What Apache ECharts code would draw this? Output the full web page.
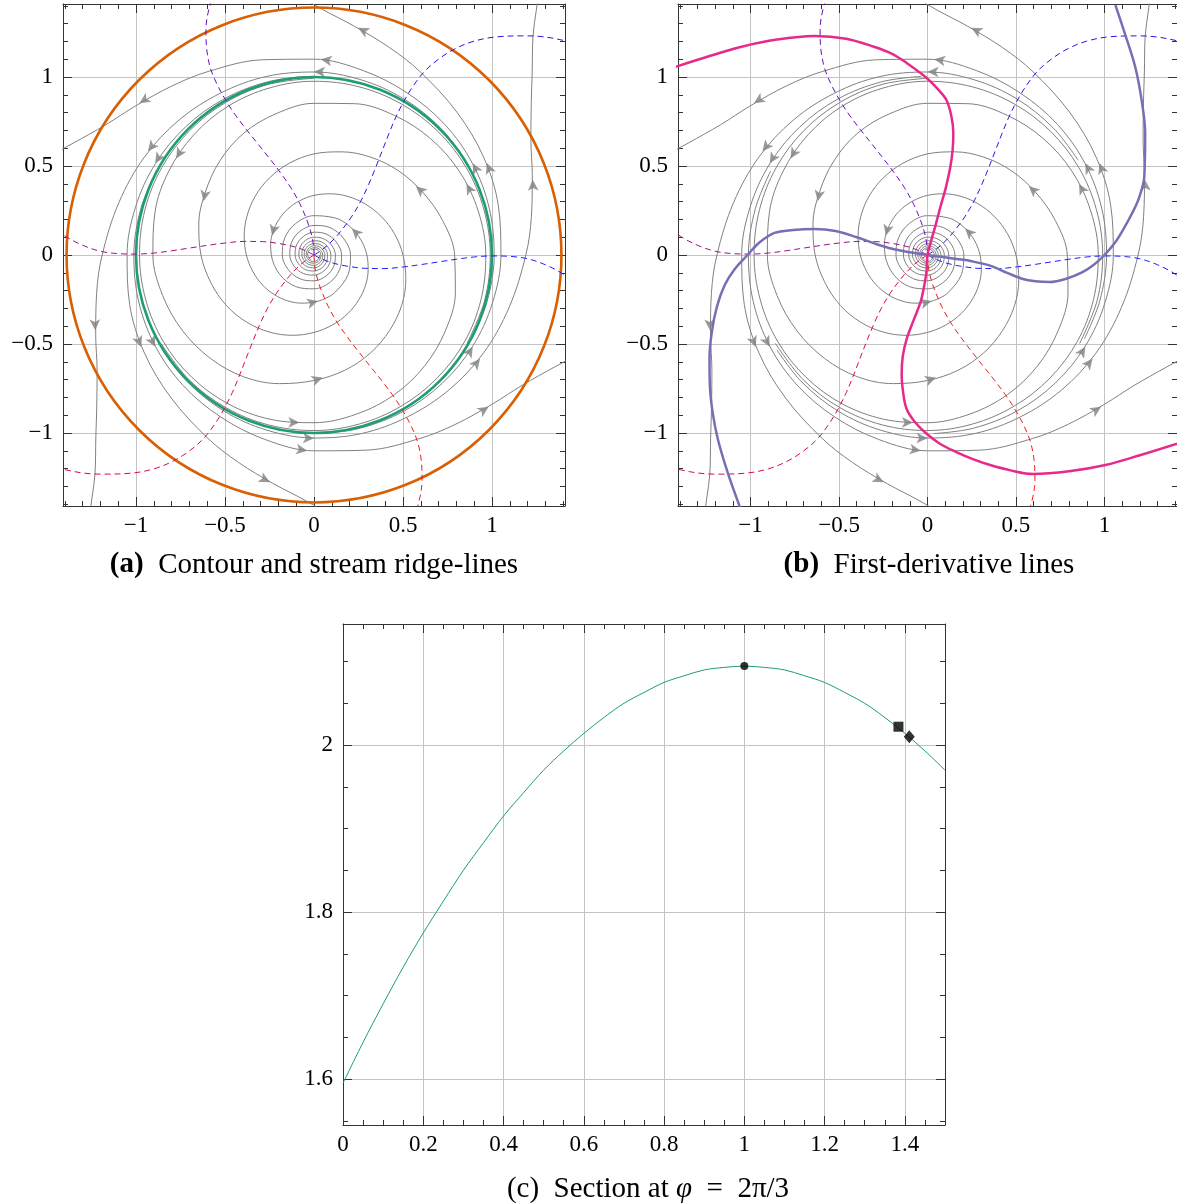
<!DOCTYPE html>
<html><head><meta charset="utf-8">
<script src="https://cdn.jsdelivr.net/npm/echarts@6/dist/echarts.min.js"></script>
<style>html,body{margin:0;padding:0;background:#fff}#c{width:1177px;height:1204px}</style>
</head><body><div id="c"></div>
<script>
// ---------------- data ----------------
// outer stream line, polar [theta deg, r]; drawn six times (60 deg apart)
const streamOut = [[-88,1.004],[-75,1.007],[-60,1.012],[-45,1.019],[-30,1.028],[-15,1.038],[0,1.05],[15,1.072],[30,1.10],[45,1.135],[60,1.19],[70,1.24],[80,1.305],[88,1.38],[95,1.49],[100,1.60],[105,1.74],[110,1.96],[116,2.25]];
const streamOutTurns = [0,60,120,180,240,300];
// inner stream line, polar [theta deg, r]; drawn three times (120 deg apart)
const streamIn = [[-150,0.993],[-135,0.992],[-120,0.99],[-105,0.988],[-90,0.986],[-75,0.983],[-60,0.98],[-45,0.978],[-30,0.976],[-15,0.971],[0,0.965],[15,0.955],[30,0.942],[45,0.925],[60,0.905],[75,0.88],[90,0.852],[105,0.822],[120,0.79],[135,0.748],[150,0.705],[165,0.67],[180,0.635],[195,0.60],[210,0.568],[225,0.534],[240,0.50],[255,0.467],[270,0.435],[285,0.406],[300,0.38],[315,0.356],[330,0.335],[345,0.315],[360,0.297],[375,0.28],[390,0.265],[405,0.252],[420,0.24],[450,0.221],[480,0.205],[510,0.19],[540,0.178],[570,0.166],[600,0.155],[630,0.145],[660,0.136],[690,0.128],[720,0.12],[750,0.113],[780,0.106],[810,0.1],[840,0.095],[870,0.09],[900,0.085],[930,0.08],[960,0.076],[990,0.072],[1020,0.068],[1050,0.064],[1080,0.061],[1110,0.058],[1140,0.055],[1170,0.052],[1200,0.049],[1230,0.046],[1260,0.044],[1290,0.041],[1320,0.039],[1350,0.037],[1380,0.035],[1410,0.033],[1440,0.031]];
const streamInTurns = [0,120,240];
// arrow heads [theta deg, r, outward tilt deg]
const arrowsOut = [[-30,1.03,2],[28,1.10,7],[79,1.30,17]];
const arrowsIn = [[25,0.945,-4],[154,0.69,-15],[395,0.26,-10]];
// dashed ridge/valley lines: [r, angular offset deg]
const ridgeShape = [[0,-30],[0.05,-27],[0.1,-24],[0.15,-21],[0.2,-18.5],[0.3,-14.5],[0.4,-11],[0.5,-7.8],[0.6,-5.2],[0.7,-3.2],[0.8,-1.7],[0.9,-0.7],[1.0,-0.3],[1.1,-0.4],[1.2,-1.0],[1.3,-2.4],[1.4,-4.3],[1.5,-6.8],[1.6,-10],[1.72,-14.3],[1.87,-20.2],[2.0,-26]];
const ridgeDirs = [0,60,120,180,240,300];
const ridgeColors = ['#1f1fff','#3510e6','#6a0dbf','#a3108a','#d80a50','#f01c1c'];
// circles in panel (a)
const contourRadius = [1.39];
const ridgeCircleRadius = [1.0];
// first-derivative lines in panel (b)
const purpleLine = [[1.062,1.404],[1.12,1.23],[1.174,1.056],[1.21,0.87],[1.23,0.685],[1.225,0.438],[1.195,0.32],[1.157,0.236],[1.11,0.15],[1.06,0.07],[1.0,0.0],[0.94,-0.055],[0.876,-0.096],[0.78,-0.135],[0.691,-0.152],[0.61,-0.148],[0.539,-0.135],[0.45,-0.1],[0.354,-0.06],[0.25,-0.035],[0.163,-0.022],[0.08,-0.01],[0,0],[-0.1,0.015],[-0.2,0.035],[-0.3,0.065],[-0.4,0.1],[-0.52,0.135],[-0.64,0.146],[-0.76,0.14],[-0.865,0.124],[-0.95,0.07],[-1.017,0],[-1.09,-0.08],[-1.146,-0.169],[-1.19,-0.29],[-1.219,-0.433],[-1.232,-0.58],[-1.23,-0.73],[-1.215,-0.88],[-1.185,-1.034],[-1.13,-1.22],[-1.06,-1.416]];
const pinkLine = [[-1.427,1.056],[-1.24,1.115],[-1.05,1.17],[-0.85,1.21],[-0.64,1.23],[-0.46,1.215],[-0.303,1.17],[-0.2,1.13],[-0.118,1.079],[-0.05,1.03],[0.0,0.99],[0.06,0.93],[0.107,0.871],[0.135,0.78],[0.146,0.685],[0.142,0.59],[0.129,0.494],[0.104,0.38],[0.073,0.27],[0.045,0.165],[0.017,0.067],[0,0],[-0.006,-0.096],[-0.02,-0.18],[-0.039,-0.264],[-0.08,-0.37],[-0.118,-0.472],[-0.14,-0.57],[-0.146,-0.674],[-0.138,-0.77],[-0.118,-0.865],[-0.07,-0.94],[-0.01,-1.0],[0.07,-1.06],[0.163,-1.107],[0.26,-1.148],[0.354,-1.18],[0.47,-1.21],[0.596,-1.23],[0.8,-1.215],[1.006,-1.18],[1.2,-1.125],[1.41,-1.06]];
// panel (c)
const sectionR = [0,0.05,0.1,0.15,0.2,0.25,0.3,0.35,0.4,0.45,0.5,0.55,0.6,0.65,0.7,0.75,0.8,0.85,0.9,0.95,1.0,1.05,1.1,1.15,1.2,1.25,1.3,1.35,1.4,1.45,1.5];
const sectionF = [1.595,1.644,1.690,1.734,1.775,1.813,1.850,1.883,1.915,1.943,1.970,1.993,2.014,2.033,2.050,2.063,2.075,2.083,2.090,2.093,2.0946,2.093,2.090,2.083,2.075,2.063,2.050,2.033,2.014,1.993,1.970];
const markCircle = [1.0,2.0946];
const markSquare = [1.384,2.022];
const markDiamond = [1.411,2.010];
// ticks
const abMajor = [-1,-0.5,0,0.5,1];
const abMinor = [-1.4,-1.3,-1.2,-1.1,-0.9,-0.8,-0.7,-0.6,-0.4,-0.3,-0.2,-0.1,0.1,0.2,0.3,0.4,0.6,0.7,0.8,0.9,1.1,1.2,1.3,1.4];
const cxMajor = [0,0.2,0.4,0.6,0.8,1,1.2,1.4];
const cxMinor = [0.05,0.1,0.15,0.25,0.3,0.35,0.45,0.5,0.55,0.65,0.7,0.75,0.85,0.9,0.95,1.05,1.1,1.15,1.25,1.3,1.35,1.45];
const cyMajor = [1.6,1.8,2];
const cyMinor = [1.55,1.65,1.7,1.75,1.85,1.9,1.95,2.05,2.1];

// ---------------- layout ----------------
const FONT = "'Liberation Serif','DejaVu Serif',serif";
const FRAME = '#333333', GRIDC = '#c4c4c4', GRAY = '#808080';
const grids = [
  {left:63, top:4, width:502, height:502, x:[-1.41,1.41], y:[-1.41,1.41]},
  {left:678, top:4, width:502, height:502, x:[-1.41,1.41], y:[-1.41,1.41]},
  {left:343, top:624, width:602, height:501, x:[0,1.5], y:[1.545,2.145]}
];
const fmt = v => (v < 0 ? '\u2212' : '') + String(Math.abs(v));
const xAxes = [], yAxes = [];
function addAxes(gi, xMaj, xMin, yMaj, yMin, xSplit, ySplit) {
  const g = grids[gi];
  const lab = {fontFamily:FONT, fontSize:23, color:'#000'};
  const common = (min,max) => ({type:'value', gridIndex:gi, min, max});
  const line = {show:true, onZero:false, lineStyle:{color:FRAME, width:1}};
  xAxes.push(Object.assign(common(g.x[0],g.x[1]), {position:'bottom', splitNumber:xSplit, axisLine:line,
    axisTick:{show:true, inside:true, length:9, customValues:xMaj, lineStyle:{color:FRAME}},
    axisLabel:Object.assign({show:true, customValues:xMaj, formatter:fmt, margin:8}, lab),
    splitLine:{show:true, lineStyle:{color:GRIDC, width:1}}}));
  xAxes.push(Object.assign(common(g.x[0],g.x[1]), {position:'top', axisLine:line,
    axisTick:{show:true, inside:true, length:9, customValues:xMaj, lineStyle:{color:FRAME}}, axisLabel:{show:false}, splitLine:{show:false}}));
  xAxes.push(Object.assign(common(g.x[0],g.x[1]), {position:'bottom', axisLine:{show:false, onZero:false},
    axisTick:{show:true, inside:true, length:5, customValues:xMin, lineStyle:{color:FRAME}}, axisLabel:{show:false}, splitLine:{show:false}}));
  xAxes.push(Object.assign(common(g.x[0],g.x[1]), {position:'top', axisLine:{show:false, onZero:false},
    axisTick:{show:true, inside:true, length:5, customValues:xMin, lineStyle:{color:FRAME}}, axisLabel:{show:false}, splitLine:{show:false}}));
  yAxes.push(Object.assign(common(g.y[0],g.y[1]), {position:'left', splitNumber:ySplit, axisLine:line,
    axisTick:{show:true, inside:true, length:9, customValues:yMaj, lineStyle:{color:FRAME}},
    axisLabel:Object.assign({show:true, customValues:yMaj, formatter:fmt, margin:10}, lab),
    splitLine:{show:true, lineStyle:{color:GRIDC, width:1}}}));
  yAxes.push(Object.assign(common(g.y[0],g.y[1]), {position:'right', axisLine:line,
    axisTick:{show:true, inside:true, length:9, customValues:yMaj, lineStyle:{color:FRAME}}, axisLabel:{show:false}, splitLine:{show:false}}));
  yAxes.push(Object.assign(common(g.y[0],g.y[1]), {position:'left', axisLine:{show:false, onZero:false},
    axisTick:{show:true, inside:true, length:5, customValues:yMin, lineStyle:{color:FRAME}}, axisLabel:{show:false}, splitLine:{show:false}}));
  yAxes.push(Object.assign(common(g.y[0],g.y[1]), {position:'right', axisLine:{show:false, onZero:false},
    axisTick:{show:true, inside:true, length:5, customValues:yMin, lineStyle:{color:FRAME}}, axisLabel:{show:false}, splitLine:{show:false}}));
}
addAxes(0, abMajor, abMinor, abMajor, abMinor, 5, 5);
addAxes(1, abMajor, abMinor, abMajor, abMinor, 5, 5);
addAxes(2, cxMajor, cxMinor, cyMajor, cyMinor, 7, 3);

// polar [theta, r] reading -> cartesian
const pc = (t, r) => { const a = t * Math.PI / 180; return [r * Math.cos(a), r * Math.sin(a)]; };

const series = [];
function panelCommon(gi) {
  const xi = gi * 4, yi = gi * 4;
  streamOutTurns.forEach(rot => series.push({type:'line', xAxisIndex:xi, yAxisIndex:yi, silent:true, symbol:'none', smooth:0.35, z:2,
    lineStyle:{color:GRAY, width:1}, data: streamOut.map(([t,r]) => pc(t + rot, r))}));
  streamInTurns.forEach(rot => series.push({type:'line', xAxisIndex:xi, yAxisIndex:yi, silent:true, symbol:'none', smooth:0.35, z:2,
    lineStyle:{color:GRAY, width:1}, data: streamIn.map(([t,r]) => pc(t + rot, r))}));
  const arr = [];
  streamOutTurns.forEach(rot => arrowsOut.forEach(([t,r,tilt]) => arr.push({value: pc(t + rot, r), symbolRotate: t + rot - tilt})));
  streamInTurns.forEach(rot => arrowsIn.forEach(([t,r,tilt]) => arr.push({value: pc(t + rot, r), symbolRotate: t + rot - tilt})));
  series.push({type:'scatter', xAxisIndex:xi, yAxisIndex:yi, silent:true, symbol:'arrow', symbolSize:[8,11], z:3,
    itemStyle:{color:GRAY}, data: arr});
  ridgeDirs.forEach((d, k) => series.push({type:'line', xAxisIndex:xi, yAxisIndex:yi, silent:true, symbol:'none', smooth:0.35, z:6,
    lineStyle:{color:ridgeColors[k], width:1, type:[6,4]}, data: ridgeShape.map(([r,o]) => pc(d + o, r))}));
}
panelCommon(0);
panelCommon(1);
series.push({type:'line', xAxisIndex:4, yAxisIndex:4, silent:true, symbol:'none', smooth:0.35, z:7,
  lineStyle:{color:'#7570b3', width:2.5}, data: purpleLine});
series.push({type:'line', xAxisIndex:4, yAxisIndex:4, silent:true, symbol:'none', smooth:0.35, z:7,
  lineStyle:{color:'#e7298a', width:2.5}, data: pinkLine});
// panel (c)
series.push({type:'line', xAxisIndex:8, yAxisIndex:8, silent:true, symbol:'none', smooth:0.35, z:3,
  lineStyle:{color:'#1b9e77', width:1}, data: sectionR.map((r,i) => [r, sectionF[i]])});
series.push({type:'scatter', xAxisIndex:8, yAxisIndex:8, silent:true, symbol:'circle', symbolSize:8, z:5, itemStyle:{color:'#000'}, data:[markCircle]});
series.push({type:'scatter', xAxisIndex:8, yAxisIndex:8, silent:true, symbol:'rect', symbolSize:10, z:5, itemStyle:{color:'#000'}, data:[markSquare]});
series.push({type:'scatter', xAxisIndex:8, yAxisIndex:8, silent:true, symbol:'diamond', symbolSize:[11,13], z:5, itemStyle:{color:'#000'}, data:[markDiamond]});

// circles of panel (a) via polar axes sharing the cartesian scale
const g0 = grids[0];
const ppu = g0.width / (g0.x[1] - g0.x[0]);
const cx0 = g0.left + (0 - g0.x[0]) * ppu, cy0 = g0.top + (g0.y[1] - 0) * ppu;
const circles = [[contourRadius[0], '#d95f02'], [ridgeCircleRadius[0], '#1b9e77']];
const polar = circles.map(([r]) => ({center:[cx0, cy0], radius: r * ppu}));
const angleAxis = circles.map(([r,c], i) => ({polarIndex:i, type:'value', min:0, max:360, z:4,
  axisLine:{show:true, lineStyle:{color:c, width:2.6}}, axisTick:{show:false}, axisLabel:{show:false}, splitLine:{show:false}}));
const radiusAxis = circles.map(([r], i) => ({polarIndex:i, type:'value', min:0, max:r, show:false, axisLine:{show:false}, axisTick:{show:false}, axisLabel:{show:false}, splitLine:{show:false}}));
circles.forEach((c, i) => series.push({type:'line', coordinateSystem:'polar', polarIndex:i, data:[], symbol:'none'}));

const CAP = 29;
const capStyle = (text, x, y) => ({type:'text', x, y, z:10, style:{text, x:0, y:0, fill:'#000', fontFamily:FONT, fontSize:CAP,
  align:'center', verticalAlign:'middle', textAlign:'center', textVerticalAlign:'middle',
  rich:{b:{fontFamily:FONT, fontSize:CAP, fontWeight:'bold'}, i:{fontFamily:FONT, fontSize:CAP, fontStyle:'italic'}}}});

const chart = echarts.init(document.getElementById('c'), null, {renderer:'canvas'});
chart.setOption({
  animation:false,
  backgroundColor:'#fff',
  grid: grids.map(g => ({left:g.left, top:g.top, width:g.width, height:g.height, containLabel:false})),
  xAxis: xAxes, yAxis: yAxes,
  polar, angleAxis, radiusAxis,
  series,
  graphic: [
    capStyle('{b|(a)}  Contour and stream ridge-lines', 314, 565),
    capStyle('{b|(b)}  First-derivative lines', 929, 565),
    capStyle('(c)  Section at {i|\u03c6}  =  2\u03c0/3', 648, 1189)
  ]
});
</script></body></html>
